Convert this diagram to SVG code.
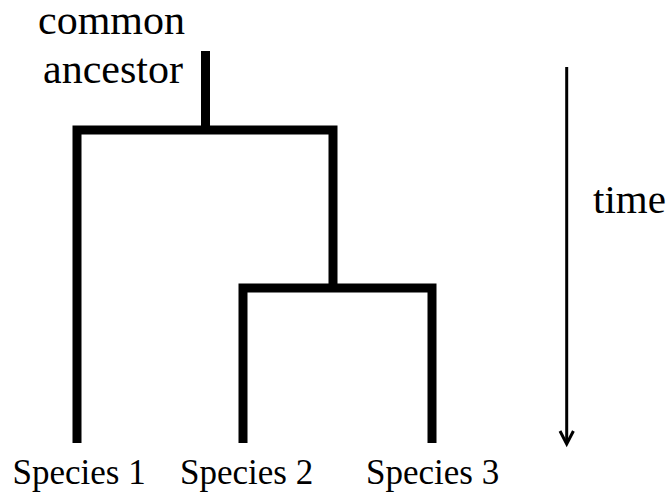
<svg xmlns="http://www.w3.org/2000/svg" width="670" height="495" viewBox="0 0 670 495">
<style>
text{font-family:"Liberation Serif","Times New Roman",serif;fill:#000}
.big{font-size:42px}
.sp{font-size:35px}
.branch{fill:none;stroke:#000;stroke-width:9;stroke-linejoin:miter;stroke-linecap:butt}
.axis{fill:none;stroke:#000;stroke-width:3}
</style>
<rect width="670" height="495" fill="#fff"/>
<g id="connectors">
<path class="branch" d="M205.5,51 V130"/>
<path class="branch" d="M77,443 V130 H333 V288"/>
<path class="branch" d="M243,443 V288 H432 V443"/>
</g>
<g id="time-axis">
<path class="axis" d="M566.7,67 V443"/>
<path class="axis" d="M560,431 L566.7,444 L573.4,431"/>
<text x="593" y="213" style="font-size:41px">time</text>
</g>
<g id="node-ancestor">
<text class="big" x="38" y="34">common</text>
<text class="big" x="43" y="83">ancestor</text>
</g>
<g id="node-species1"><text class="sp" x="12.5" y="484">Species 1</text></g>
<g id="node-species2"><text class="sp" x="180" y="484">Species 2</text></g>
<g id="node-species3"><text class="sp" x="366" y="484">Species 3</text></g>
</svg>
